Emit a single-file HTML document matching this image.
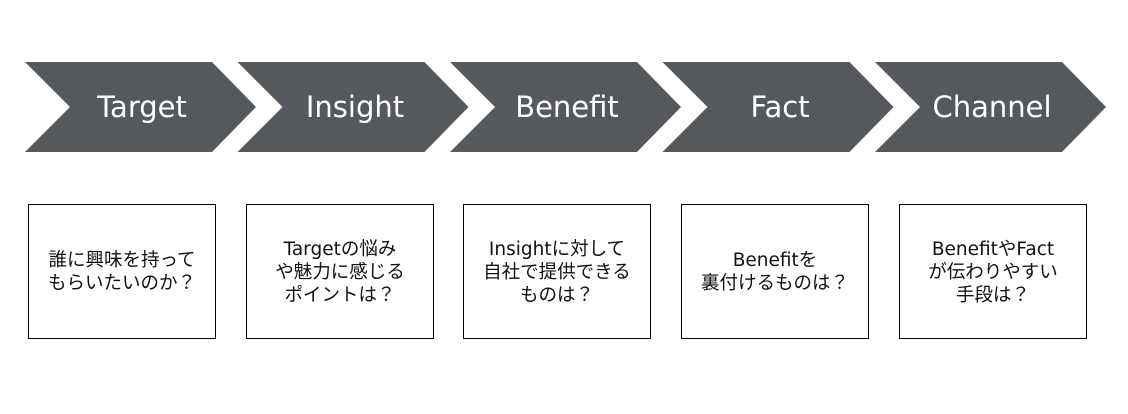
<!DOCTYPE html>
<html>
<head>
<meta charset="utf-8">
<style>
  html,body{margin:0;padding:0;background:#fff;}
  body{width:1128px;height:414px;position:relative;overflow:hidden;}
  svg{position:absolute;left:0;top:0;}
  .box{position:absolute;top:204px;width:186px;height:133px;border:1px solid #000;
       display:flex;align-items:center;justify-content:center;text-align:center;
       font-family:"DejaVu Sans","Noto Sans CJK JP",sans-serif;font-size:18.5px;line-height:23px;color:#111;}
  .box div{margin-top:1px;}
</style>
</head>
<body>
<svg width="1128" height="414" viewBox="0 0 1128 414">
  <g fill="#55585d">
    <polygon points="25,62 212,62 256,107 212,152 25,152 70,107"/>
    <polygon points="237.5,62 424.5,62 468.5,107 424.5,152 237.5,152 282.5,107"/>
    <polygon points="450,62 637,62 681,107 637,152 450,152 495,107"/>
    <polygon points="662.5,62 849.5,62 893.5,107 849.5,152 662.5,152 707.5,107"/>
    <polygon points="875,62 1062,62 1106,107 1062,152 875,152 920,107"/>
  </g>
  <g fill="#ffffff" font-family="DejaVu Sans, Verdana, sans-serif" font-size="29" text-anchor="middle">
    <text x="142" y="117">Target</text>
    <text x="355" y="117">Insight</text>
    <text x="567" y="117">Benefit</text>
    <text x="780" y="117">Fact</text>
    <text x="992" y="117">Channel</text>
  </g>
</svg>
<div class="box" style="left:28px;"><div>誰に興味を持って<br>もらいたいのか？</div></div>
<div class="box" style="left:246px;"><div>Targetの悩み<br>や魅力に感じる<br>ポイントは？</div></div>
<div class="box" style="left:463px;"><div>Insightに対して<br>自社で提供できる<br>ものは？</div></div>
<div class="box" style="left:681px;"><div>Benefitを<br>裏付けるものは？</div></div>
<div class="box" style="left:899px;"><div>BenefitやFact<br>が伝わりやすい<br>手段は？</div></div>
</body>
</html>
